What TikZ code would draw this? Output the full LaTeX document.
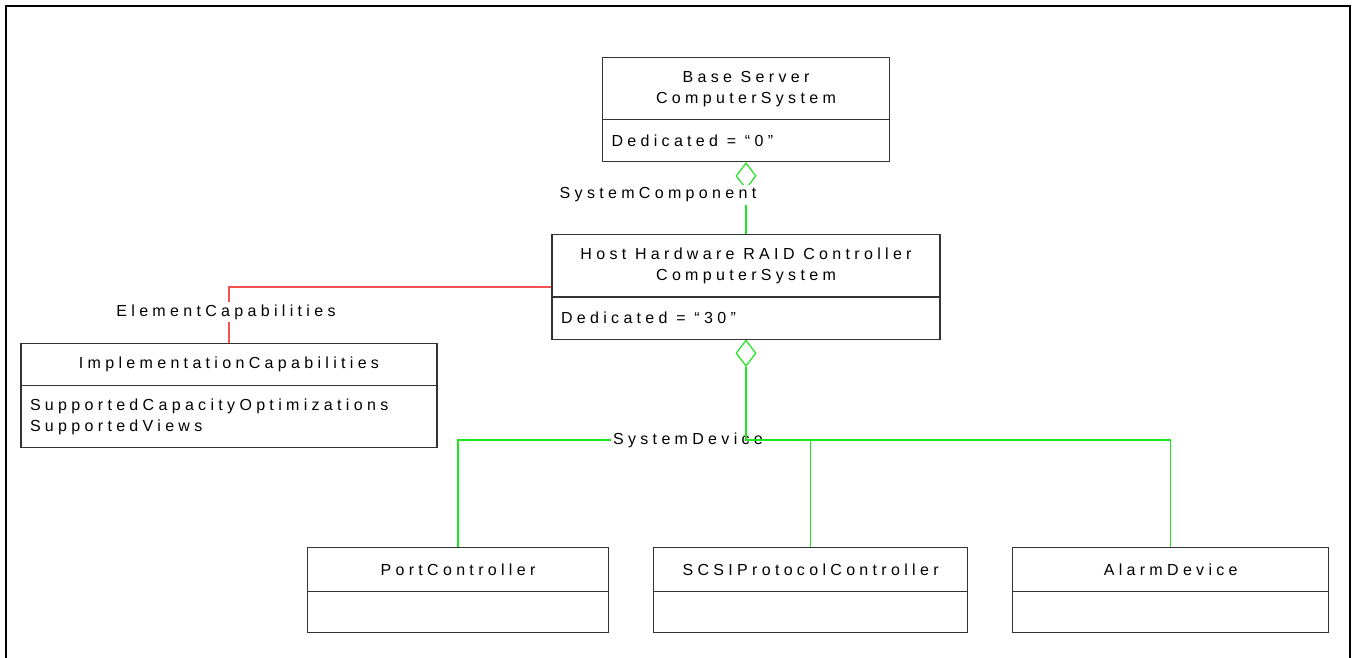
\documentclass[tikz,border=0pt]{standalone}
\usepackage{fontspec}
\setmainfont{Liberation Sans}[LetterSpace=27]
\usetikzlibrary{shapes,positioning}

\definecolor{assocgreen}{RGB}{30,230,30}
\definecolor{capred}{RGB}{245,80,80}

% class compartments: width, height, text
\newcommand{\classhead}[3]{\parbox[c][#2][c]{#1}{\centering #3}}
\newcommand{\classattr}[3]{\parbox[c][#2][c]{#1}{\leftskip=9pt #3}}

\begin{document}
\begin{tikzpicture}[x=1pt, y=-1pt, font=\fontsize{16}{21}\selectfont]
        \tikzstyle{umlclass}=[rectangle split, rectangle split parts=2, draw=black!80, line width=1.1pt, inner sep=0pt, fill=white]
        \tikzstyle{agg}=[diamond, draw=assocgreen, line width=1.2pt, inner sep=0pt, minimum width=20pt, minimum height=26pt, fill=white]
        \tikzstyle{sysline}=[draw=assocgreen, line width=1.2pt]
        \tikzstyle{capline}=[draw=capred, line width=1.2pt]
        \tikzstyle{assoc}=[fill=white, inner sep=3pt]
        \useasboundingbox (0,0) rectangle (1352,658);
        \draw [line width=2.5pt] (6,658) -- (6,6) -- (1350,6) -- (1350,658);
        \begin{scope}
          \node [umlclass, anchor=north] (base) at (746,57)
            {\classhead{287pt}{61pt}{Base Server\\ComputerSystem}\nodepart{two}\classattr{287pt}{41pt}{Dedicated = “0”}};
          \node [umlclass] (host) [below=72pt of base]
            {\classhead{388pt}{61pt}{Host Hardware RAID Controller\\ComputerSystem}\nodepart{two}\classattr{388pt}{41pt}{Dedicated = “30”}};
          \node [umlclass, anchor=north] (impl) at (229,343)
            {\classhead{416pt}{41pt}{ImplementationCapabilities}\nodepart{two}\classattr{416pt}{61pt}{SupportedCapacityOptimizations\\SupportedViews}};
          \node [umlclass, anchor=north] (port) at (458,547)
            {\classhead{301pt}{43pt}{PortController}\nodepart{two}\classattr{301pt}{40pt}{}};
          \node [umlclass] (scsi) [right=44pt of port]
            {\classhead{314pt}{43pt}{SCSIProtocolController}\nodepart{two}\classattr{314pt}{40pt}{}};
          \node [umlclass] (alarm) [right=44pt of scsi]
            {\classhead{316pt}{43pt}{AlarmDevice}\nodepart{two}\classattr{316pt}{40pt}{}};
        \end{scope}
        \node [agg, anchor=north] (baseagg) at (base.south) {};
        \node [agg, anchor=north] (hostagg) at (host.south) {};
        \coordinate (sysbus) at (746,440);
        \draw [sysline] (baseagg.south) -- (host.north);
        \node [assoc] (syscomp) at (658,195) {SystemComponent};
        \draw [capline] (host.west) -| (impl.north);
        \node [assoc] (elemcap) at (226,312) {ElementCapabilities};
        \node [inner sep=2pt] (sysdev) at (688,440) {SystemDevice};
        \draw [sysline] (port.north) |- (sysdev.west);
        \draw [sysline] (hostagg.south) -- (sysbus) -| (alarm.north);
        \draw [sysline] (sysbus) -| (scsi.north);
      \end{tikzpicture}
\end{document}
